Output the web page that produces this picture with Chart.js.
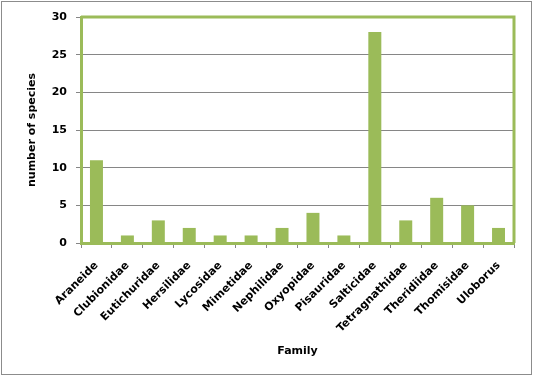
<!DOCTYPE html>
<html>
<head>
<meta charset="utf-8">
<script src="https://cdn.jsdelivr.net/npm/chart.js@4/dist/chart.umd.min.js"></script>
<style>
html,body{margin:0;padding:0;background:#fff;}
#wrap{position:relative;width:534px;height:384px;}
</style>
</head>
<body>
<div id="wrap"><canvas id="c" width="534" height="384"></canvas></div>
<script>
const families = ["Araneide","Clubionidae","Eutichuridae","Hersilidae","Lycosidae","Mimetidae","Nephilidae","Oxyopidae","Pisauridae","Salticidae","Tetragnathidae","Theridiidae","Thomisidae","Uloborus"];
const speciesCounts = [11,1,3,2,1,1,2,4,1,28,3,6,5,2];
const yTicks = [0,5,10,15,20,25,30];
const xTitle = "Family";
const yTitle = "number of species";

const GREEN = "#9BBB59";
const FONT = "'DejaVu Sans', Verdana, sans-serif";

const frame = {
  id: 'frame',
  beforeDraw(chart) {
    const ctx = chart.ctx;
    ctx.save();
    ctx.fillStyle = '#fff';
    ctx.fillRect(0,0,chart.width,chart.height);
    ctx.strokeStyle = '#8c8c8c';
    ctx.lineWidth = 1;
    ctx.strokeRect(1.5,1.5,530,373);
    ctx.restore();
  },
  afterDatasetsDraw(chart) {
    const a = chart.chartArea, ctx = chart.ctx;
    ctx.save();
    ctx.strokeStyle = GREEN;
    ctx.lineWidth = 3;
    ctx.beginPath();
    ctx.moveTo(a.left, a.top);
    ctx.lineTo(a.right, a.top);
    ctx.lineTo(a.right, a.bottom);
    ctx.stroke();
    ctx.restore();
  }
};

new Chart(document.getElementById('c'), {
  type: 'bar',
  data: {
    labels: families,
    datasets: [{
      data: speciesCounts,
      backgroundColor: GREEN,
      borderWidth: 0,
      barPercentage: 0.42,
      categoryPercentage: 1.0
    }]
  },
  options: {
    responsive: false,
    animation: false,
    devicePixelRatio: 1,
    layout: { padding: { left: 0, top: 17, right: 20, bottom: 0 } },
    plugins: { legend: { display: false }, tooltip: { enabled: false } },
    scales: {
      x: {
        afterFit(s) { s.height = 141; },
        grid: { display: true, drawOnChartArea: false, offset: true, tickLength: 5, color: '#868686' },
        border: { color: GREEN, width: 3 },
        ticks: {
          autoSkip: false, minRotation: 45, maxRotation: 45, padding: 11,
          color: '#000', font: { family: FONT, size: 11, weight: 'bold' }
        },
        title: {
          display: true, text: xTitle, color: '#000',
          font: { family: FONT, size: 11, weight: 'bold' },
          padding: { top: 0, bottom: 26 }
        }
      },
      y: {
        min: 0, max: 30,
        afterFit(s) { s.width = 81; },
        afterBuildTicks(s) { s.ticks = yTicks.map(v => ({ value: v })); },
        grid: { color: '#868686', lineWidth: 1, tickLength: 5 },
        border: { color: GREEN, width: 3 },
        ticks: {
          padding: 9, color: '#000',
          font: { family: FONT, size: 11, weight: 'bold' }
        },
        title: {
          display: true, text: yTitle, color: '#000',
          font: { family: FONT, size: 11, weight: 'bold' },
          padding: { top: 26, bottom: 0 }
        }
      }
    }
  },
  plugins: [frame]
});
</script>
</body>
</html>
